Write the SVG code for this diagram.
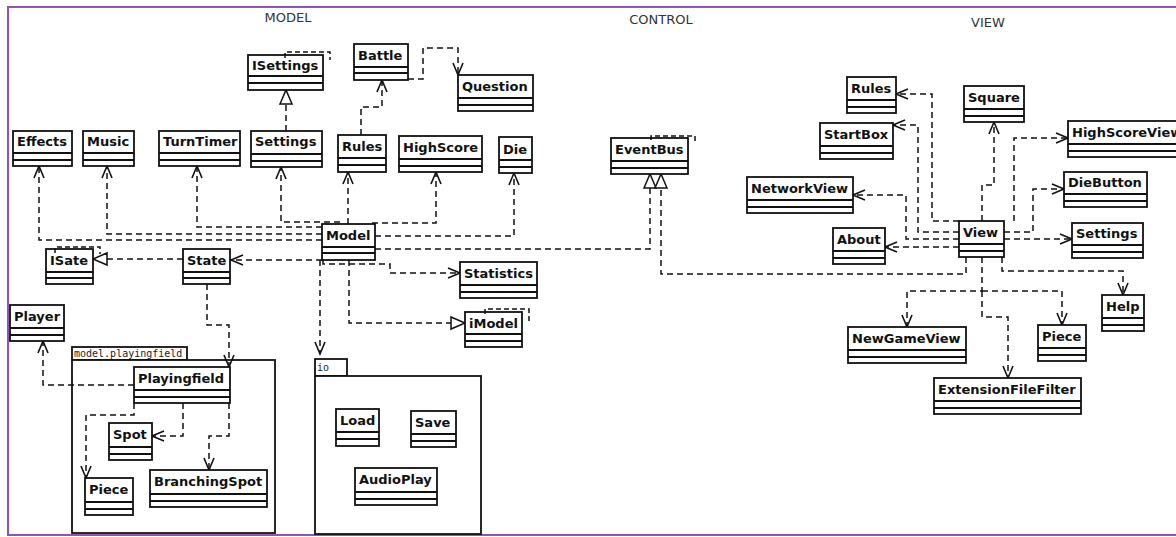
<svg xmlns="http://www.w3.org/2000/svg" width="1176" height="537" viewBox="0 0 1176 537">
<style>
.bg{fill:#fff}
.frame{fill:none;stroke:#8e52c1;stroke-width:2}
.sec{font-family:"DejaVu Sans",sans-serif;font-size:13px;fill:#333}
.box{fill:#fff;stroke:#111;stroke-width:1.8}
.cmp{fill:none;stroke:#111;stroke-width:1.8}
.nm{font-family:"DejaVu Sans",sans-serif;font-size:13px;font-weight:bold;fill:#111}
.pk{fill:#fff;stroke:#111;stroke-width:1.8}
.pkl{font-family:"DejaVu Sans Mono",monospace;font-size:10px;fill:#222}
.tpl{fill:none;stroke:#111;stroke-width:1.5;stroke-dasharray:5,3}
.c{fill:none;stroke:#111;stroke-width:1.5;stroke-dasharray:6,4}
.d{marker-end:url(#vee)}
.r{marker-end:url(#tri)}
</style>
<defs>
<marker id="vee" markerUnits="userSpaceOnUse" markerWidth="13" markerHeight="11" refX="12" refY="5.5" orient="auto" overflow="visible">
<path d="M0,0.5 L12,5.5 L0,10.5" fill="none" stroke="#111" stroke-width="1.6"/>
</marker>
<marker id="tri" markerUnits="userSpaceOnUse" markerWidth="16" markerHeight="14" refX="15" refY="6.5" orient="auto" overflow="visible">
<path d="M1,0.5 L15,6.5 L1,12.5 Z" fill="#fff" stroke="#111" stroke-width="1.5"/>
</marker>
</defs>
<rect class="bg" x="0" y="0" width="1176" height="537"/>
<rect class="frame" x="8" y="7" width="1180" height="528"/>
<text class="sec" x="288" y="22" text-anchor="middle">MODEL</text>
<text class="sec" x="661" y="24" text-anchor="middle">CONTROL</text>
<text class="sec" x="988" y="27" text-anchor="middle">VIEW</text>

<g id="pkg-playingfield">
<rect class="pk" x="72" y="347" width="115" height="13"/>
<rect class="pk" x="72" y="360" width="203" height="173"/>
<text class="pkl" x="74" y="357">model.playingfield</text>
</g>
<g id="pkg-io">
<rect class="pk" x="315" y="359" width="32" height="17"/>
<rect class="pk" x="315" y="376" width="166" height="158"/>
<text class="pkl" x="317" y="371">io</text>
</g>

<g id="connectors">
<path class="c d" d="M322,240 H39 V166"/>
<path class="c d" d="M322,234 H107 V166"/>
<path class="c d" d="M322,227 H197 V166"/>
<path class="c d" d="M340,222 H281 V167"/>
<path class="c d" d="M348,224 V172"/>
<path class="c d" d="M372,223 H436 V172"/>
<path class="c d" d="M375,236 H514 V173"/>
<path class="c r" d="M375,249 H650 V174"/>
<path class="c d" d="M322,260 H231"/>
<path class="c r" d="M183,259 H93"/>
<path class="c d" d="M323,260 V264 H390 V273 H460"/>
<path class="c d" d="M320,260 V354"/>
<path class="c r" d="M349,260 V323 H465"/>
<path class="c d" d="M207,284 V325 H229 V367"/>
<path class="c d" d="M134,385 H43 V341"/>
<path class="c d" d="M134,403 V415 H86 V478"/>
<path class="c d" d="M183,403 V436 H152"/>
<path class="c d" d="M229,403 V436 H209 V470"/>
<path class="c d" d="M408,79 H423 V48 H458 V75"/>
<path class="c d" d="M361,135 V107 H382 V80"/>
<path class="c r" d="M286,131 V90"/>
<path class="c r" d="M966,257 V274 H661 V174"/>
<path class="c d" d="M959,221 H932 V94 H896"/>
<path class="c d" d="M959,232 H918 V125 H893"/>
<path class="c d" d="M959,239 H906 V195 H853"/>
<path class="c d" d="M959,247 H885"/>
<path class="c d" d="M982,221 V185 H994 V122"/>
<path class="c d" d="M1014,221 V138 H1068"/>
<path class="c d" d="M1004,232 H1033 V189 H1064"/>
<path class="c d" d="M1004,239 H1072"/>
<path class="c d" d="M1002,257 V271 H1123 V295"/>
<path class="c d" d="M982,257 V291 H907 V327"/>
<path class="c d" d="M982,291 H1062 V325"/>
<path class="c d" d="M982,291 V317 H1008 V378"/>
</g>

<g id="Effects"><rect class="box" x="13" y="131" width="59" height="35"/><path class="cmp" d="M13,153 H72 M13,160 H72"/><text class="nm" x="17" y="146">Effects</text></g>
<g id="Music"><rect class="box" x="83" y="131" width="51" height="35"/><path class="cmp" d="M83,153 H134 M83,160 H134"/><text class="nm" x="87" y="146">Music</text></g>
<g id="TurnTimer"><rect class="box" x="159" y="131" width="81" height="35"/><path class="cmp" d="M159,153 H240 M159,160 H240"/><text class="nm" x="163" y="146">TurnTimer</text></g>
<g id="Settings"><rect class="box" x="251" y="131" width="71" height="36"/><path class="cmp" d="M251,154 H322 M251,161 H322"/><text class="nm" x="255" y="146">Settings</text></g>
<g id="ISettings"><rect class="box" x="248" y="55" width="75" height="35"/><path class="cmp" d="M248,76 H323 M248,83 H323"/><path class="tpl" d="M285,58 V52 H330 V60"/><text class="nm" x="252" y="70">ISettings</text></g>
<g id="Battle"><rect class="box" x="354" y="44" width="54" height="36"/><path class="cmp" d="M354,67 H408 M354,73 H408"/><text class="nm" x="358" y="60">Battle</text></g>
<g id="Question"><rect class="box" x="458" y="75" width="75" height="36"/><path class="cmp" d="M458,98 H533 M458,105 H533"/><text class="nm" x="462" y="91">Question</text></g>
<g id="Rules"><rect class="box" x="338" y="135" width="48" height="37"/><path class="cmp" d="M338,158 H386 M338,165 H386"/><text class="nm" x="342" y="151">Rules</text></g>
<g id="HighScore"><rect class="box" x="399" y="136" width="83" height="36"/><path class="cmp" d="M399,159 H482 M399,166 H482"/><text class="nm" x="403" y="152">HighScore</text></g>
<g id="Die"><rect class="box" x="499" y="137" width="33" height="36"/><path class="cmp" d="M499,160 H532 M499,167 H532"/><text class="nm" x="503" y="154">Die</text></g>
<g id="Model"><rect class="box" x="322" y="224" width="53" height="36"/><path class="cmp" d="M322,247 H375 M322,253 H375"/><text class="nm" x="326" y="240">Model</text></g>
<g id="ISate"><rect class="box" x="46" y="249" width="47" height="35"/><path class="cmp" d="M46,272 H93 M46,278 H93"/><path class="tpl" d="M55,253 V247 H100 V254"/><text class="nm" x="50" y="265">ISate</text></g>
<g id="State"><rect class="box" x="183" y="249" width="47" height="35"/><path class="cmp" d="M183,272 H230 M183,278 H230"/><text class="nm" x="187" y="265">State</text></g>
<g id="Statistics"><rect class="box" x="460" y="262" width="77" height="36"/><path class="cmp" d="M460,285 H537 M460,292 H537"/><text class="nm" x="464" y="278">Statistics</text></g>
<g id="iModel"><rect class="box" x="465" y="312" width="57" height="35"/><path class="cmp" d="M465,334 H522 M465,341 H522"/><path class="tpl" d="M485,314 V309 H529 V322"/><text class="nm" x="469" y="328">iModel</text></g>
<g id="Player"><rect class="box" x="10" y="305" width="54" height="36"/><path class="cmp" d="M10,328 H64 M10,335 H64"/><text class="nm" x="14" y="321">Player</text></g>
<g id="Playingfield"><rect class="box" x="134" y="367" width="96" height="36"/><path class="cmp" d="M134,390 H230 M134,397 H230"/><text class="nm" x="138" y="383">Playingfield</text></g>
<g id="Spot"><rect class="box" x="109" y="423" width="43" height="37"/><path class="cmp" d="M109,447 H152 M109,454 H152"/><text class="nm" x="113" y="439">Spot</text></g>
<g id="Piece"><rect class="box" x="85" y="478" width="48" height="37"/><path class="cmp" d="M85,502 H133 M85,509 H133"/><text class="nm" x="89" y="494">Piece</text></g>
<g id="BranchingSpot"><rect class="box" x="150" y="470" width="117" height="37"/><path class="cmp" d="M150,494 H267 M150,501 H267"/><text class="nm" x="154" y="486">BranchingSpot</text></g>
<g id="Load"><rect class="box" x="336" y="409" width="43" height="37"/><path class="cmp" d="M336,432 H379 M336,439 H379"/><text class="nm" x="340" y="425">Load</text></g>
<g id="Save"><rect class="box" x="411" y="411" width="45" height="36"/><path class="cmp" d="M411,434 H456 M411,441 H456"/><text class="nm" x="415" y="427">Save</text></g>
<g id="AudioPlay"><rect class="box" x="355" y="468" width="82" height="37"/><path class="cmp" d="M355,492 H437 M355,499 H437"/><text class="nm" x="359" y="484">AudioPlay</text></g>
<g id="EventBus"><rect class="box" x="611" y="138" width="77" height="36"/><path class="cmp" d="M611,161 H688 M611,168 H688"/><path class="tpl" d="M651,140 V136 H695 V144"/><text class="nm" x="615" y="154">EventBus</text></g>
<g id="ViewRules"><rect class="box" x="847" y="77" width="49" height="36"/><path class="cmp" d="M847,100 H896 M847,107 H896"/><text class="nm" x="851" y="93">Rules</text></g>
<g id="StartBox"><rect class="box" x="820" y="123" width="73" height="36"/><path class="cmp" d="M820,146 H893 M820,153 H893"/><text class="nm" x="824" y="139">StartBox</text></g>
<g id="NetworkView"><rect class="box" x="747" y="177" width="106" height="36"/><path class="cmp" d="M747,200 H853 M747,207 H853"/><text class="nm" x="751" y="193">NetworkView</text></g>
<g id="About"><rect class="box" x="833" y="228" width="52" height="36"/><path class="cmp" d="M833,251 H885 M833,258 H885"/><text class="nm" x="837" y="244">About</text></g>
<g id="Square"><rect class="box" x="964" y="86" width="60" height="36"/><path class="cmp" d="M964,109 H1024 M964,116 H1024"/><text class="nm" x="968" y="102">Square</text></g>
<g id="HighScoreView"><rect class="box" x="1068" y="121" width="122" height="36"/><path class="cmp" d="M1068,144 H1190 M1068,151 H1190"/><text class="nm" x="1072" y="137">HighScoreView</text></g>
<g id="DieButton"><rect class="box" x="1064" y="172" width="83" height="35"/><path class="cmp" d="M1064,194 H1147 M1064,201 H1147"/><text class="nm" x="1068" y="187">DieButton</text></g>
<g id="ViewSettings"><rect class="box" x="1072" y="223" width="71" height="35"/><path class="cmp" d="M1072,245 H1143 M1072,252 H1143"/><text class="nm" x="1076" y="238">Settings</text></g>
<g id="View"><rect class="box" x="959" y="221" width="45" height="36"/><path class="cmp" d="M959,244 H1004 M959,251 H1004"/><text class="nm" x="963" y="237">View</text></g>
<g id="Help"><rect class="box" x="1102" y="295" width="42" height="36"/><path class="cmp" d="M1102,318 H1144 M1102,325 H1144"/><text class="nm" x="1106" y="311">Help</text></g>
<g id="NewGameView"><rect class="box" x="848" y="327" width="118" height="36"/><path class="cmp" d="M848,350 H966 M848,357 H966"/><text class="nm" x="852" y="343">NewGameView</text></g>
<g id="ViewPiece"><rect class="box" x="1038" y="325" width="48" height="36"/><path class="cmp" d="M1038,348 H1086 M1038,355 H1086"/><text class="nm" x="1042" y="341">Piece</text></g>
<g id="ExtensionFileFilter"><rect class="box" x="934" y="378" width="147" height="36"/><path class="cmp" d="M934,401 H1081 M934,408 H1081"/><text class="nm" x="938" y="394">ExtensionFileFilter</text></g>
</svg>
